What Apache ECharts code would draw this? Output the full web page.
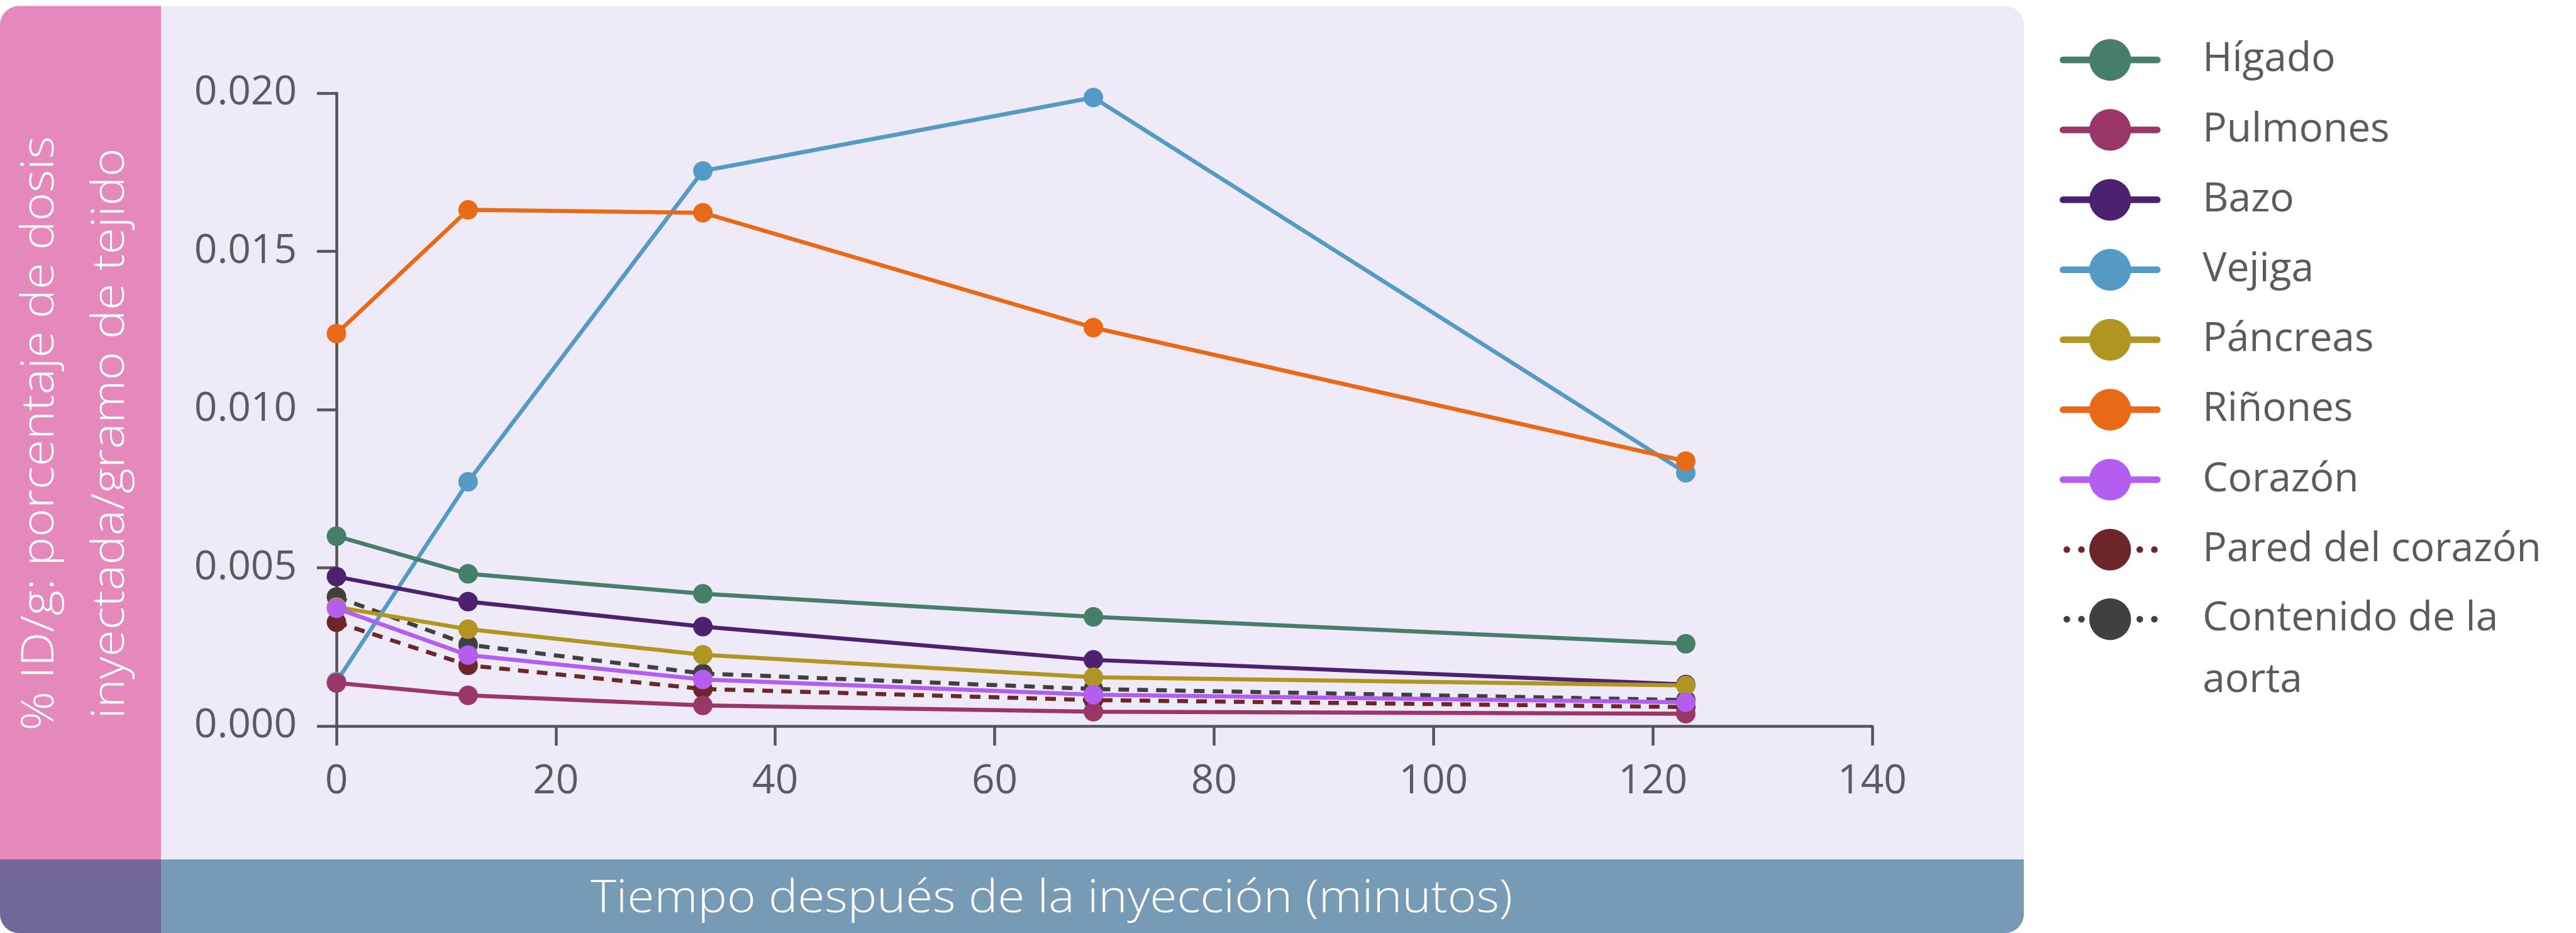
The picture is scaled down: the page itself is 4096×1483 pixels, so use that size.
<!DOCTYPE html>
<html>
<head>
<meta charset="utf-8">
<title>Biodistribución</title>
<script src="https://cdn.jsdelivr.net/npm/echarts@6/dist/echarts.min.js"></script>
<style>
html, body { margin: 0; padding: 0; background: #fff; }
#main { width: 4096px; height: 1483px; }
</style>
</head>
<body>
<div id="main"></div>
<script>
// tiempos de medida (minutos)
var tiempos = [0, 12, 33.4, 69, 123];

// %ID/g por órgano
var higado   = [0.0060, 0.00481, 0.00418, 0.00345, 0.0026];
var pulmones = [0.00136, 0.00097, 0.00065, 0.00045, 0.00039];
var bazo     = [0.00472, 0.00393, 0.00314, 0.00209, 0.00131];
var vejiga   = [0.0014, 0.00772, 0.01754, 0.01986, 0.0080];
var pancreas = [0.00376, 0.00306, 0.00225, 0.00154, 0.00128];
var rinones  = [0.0124, 0.01631, 0.01622, 0.01259, 0.00837];
var corazon  = [0.00372, 0.00224, 0.00147, 0.00099, 0.00075];
var pared    = [0.00328, 0.00192, 0.00117, 0.00082, 0.0006];
var aorta    = [0.00408, 0.00257, 0.00166, 0.00117, 0.00082];

var organos = ['Hígado', 'Pulmones', 'Bazo', 'Vejiga', 'Páncreas', 'Riñones', 'Corazón', 'Pared del corazón', 'Contenido de la aorta'];

// marcas de los ejes
var xTicks = [0, 20, 40, 60, 80, 100, 120, 140];
var yTicks = [0, 0.005, 0.010, 0.015, 0.020];

var tituloY = ['% ID/g: porcentaje de dosis', 'inyectada/gramo de tejido'];
var tituloX = 'Tiempo después de la inyección (minutos)';

var fuente = "'Open Sans', 'Noto Sans', sans-serif";
var gris = '#5a5a5f';

function linea(nombre, valores, color, discontinua) {
    return {
        name: nombre,
        type: 'line',
        data: tiempos.map(function (t, i) { return [t, valores[i]]; }),
        symbol: 'circle',
        symbolSize: 31,
        itemStyle: { color: color },
        lineStyle: { color: color, width: 6.5, type: discontinua ? [17, 13] : 'solid' },
        emphasis: { disabled: true }
    };
}

var punteado = { type: [0.1, 23.1], dashOffset: 17.1 };
var textoLeyenda = { fontFamily: fuente, fontSize: 64, color: gris, padding: [0, 0, 0, 67] };

var myChart = echarts.init(document.getElementById('main'));
myChart.setOption({
    animation: false,
    backgroundColor: '#ffffff',
    graphic: [
        // paneles de fondo
        { type: 'rect', z: -20, silent: true, shape: { x: 0, y: 9.6, width: 3218, height: 1473.4, r: 30 }, style: { fill: '#eeeaf7' } },
        { type: 'rect', z: -19, silent: true, shape: { x: 0, y: 9.6, width: 256, height: 1356.4, r: [30, 0, 0, 0] }, style: { fill: '#e589bc' } },
        { type: 'rect', z: -19, silent: true, shape: { x: 0, y: 1366, width: 256, height: 117, r: [0, 0, 0, 30] }, style: { fill: '#716898' } },
        { type: 'rect', z: -19, silent: true, shape: { x: 256, y: 1366, width: 2962, height: 117, r: [0, 0, 30, 0] }, style: { fill: '#789bb5' } },
        // títulos de los ejes
        {
            type: 'text', z: 10, silent: true, x: 120.8, y: 689, rotation: Math.PI / 2, scaleX: 1.09,
            style: { text: tituloY.join('\n'), fill: '#ffffff', fontFamily: fuente, fontWeight: 300, fontSize: 71, lineHeight: 112.5, align: 'center', verticalAlign: 'middle' }
        },
        {
            type: 'text', z: 10, silent: true, x: 1672, y: 1430, scaleX: 1.1,
            style: { text: tituloX, fill: '#ffffff', fontFamily: fuente, fontWeight: 300, fontSize: 71, align: 'center', verticalAlign: 'middle' }
        }
    ],
    grid: { left: 535, top: 148, right: 1119, bottom: 329 },
    xAxis: {
        type: 'value',
        min: xTicks[0], max: xTicks[xTicks.length - 1], interval: xTicks[1] - xTicks[0],
        splitLine: { show: false },
        axisLine: { lineStyle: { color: '#555555', width: 4.5 } },
        axisTick: { length: 31, lineStyle: { color: '#555555', width: 4.5 } },
        axisLabel: { fontFamily: fuente, fontSize: 64, color: gris, margin: 57 }
    },
    yAxis: {
        type: 'value',
        min: yTicks[0], max: yTicks[yTicks.length - 1], interval: yTicks[1] - yTicks[0],
        splitLine: { show: false },
        axisLine: { show: true, lineStyle: { color: '#555555', width: 4.5 } },
        axisTick: { show: true, length: 31, lineStyle: { color: '#555555', width: 4.5 } },
        axisLabel: {
            fontFamily: fuente, fontSize: 64, color: gris, margin: 63,
            formatter: function (v) { return v.toFixed(3); }
        }
    },
    legend: [
        {
            orient: 'vertical',
            left: 3270, top: 57,
            itemWidth: 150, itemHeight: 83, itemGap: 44.8,
            selectedMode: false,
            textStyle: textoLeyenda,
            lineStyle: { width: 10.5, cap: 'round' },
            data: [
                { name: organos[0] },
                { name: organos[1] },
                { name: organos[2] },
                { name: organos[3] },
                { name: organos[4] },
                { name: organos[5] },
                { name: organos[6] },
                { name: organos[7], lineStyle: punteado }
            ]
        },
        {
            // última entrada, en dos líneas
            orient: 'vertical',
            left: 3270, top: 946,
            itemWidth: 150, itemHeight: 83,
            selectedMode: false,
            textStyle: {
                fontFamily: fuente, fontSize: 64, color: gris, padding: [0, 0, 0, 67],
                rich: {
                    a: { fontFamily: fuente, fontSize: 64, color: gris, lineHeight: 196 },
                    b: { fontFamily: fuente, fontSize: 64, color: gris, lineHeight: 1 }
                }
            },
            formatter: function (n) {
                var k = n.lastIndexOf(' ');
                return '{a|' + n.slice(0, k) + '}\n{b|' + n.slice(k + 1) + '}';
            },
            lineStyle: { width: 10.5, cap: 'round' },
            data: [{ name: organos[8], lineStyle: punteado }]
        }
    ],
    // orden de dibujo: discontinuas debajo
    series: [
        linea(organos[7], pared, '#6e2629', true),
        linea(organos[8], aorta, '#404040', true),
        linea(organos[3], vejiga, '#5599c5'),
        linea(organos[0], higado, '#467e6a'),
        linea(organos[1], pulmones, '#9b3768'),
        linea(organos[2], bazo, '#4b2170'),
        linea(organos[4], pancreas, '#b09522'),
        linea(organos[5], rinones, '#e86a17'),
        linea(organos[6], corazon, '#b35eee')
    ]
});
</script>
</body>
</html>
